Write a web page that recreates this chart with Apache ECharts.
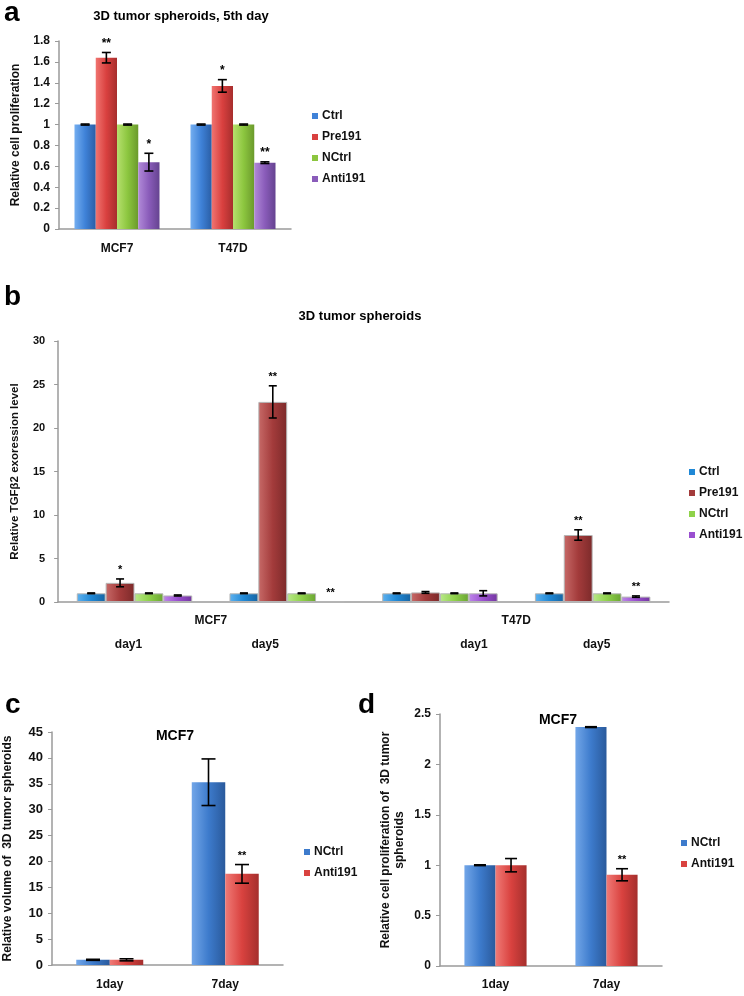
<!DOCTYPE html>
<html><head><meta charset="utf-8">
<script src="https://cdn.jsdelivr.net/npm/echarts@6/dist/echarts.min.js"></script>
<style>html,body{margin:0;padding:0;background:#fff}#c{width:744px;height:996px}</style>
</head><body><div id="c"></div>
<script>
// ---------------- data ----------------
const seriesNames = ['Ctrl', 'Pre191', 'NCtrl', 'Anti191'];

// Panel a
const catsA = ['MCF7', 'T47D'];
const aCtrl = [1.0, 1.0];
const aPre191 = [1.64, 1.37];
const aNCtrl = [1.0, 1.0];
const aAnti191 = [0.64, 0.635];
const aCtrlErr = [0.005, 0.005];
const aPre191Err = [0.05, 0.06];
const aNCtrlErr = [0.005, 0.005];
const aAnti191Err = [0.085, 0.008];
const aSigCtrl = ['', ''];
const aSigPre191 = ['**', '*'];
const aSigNCtrl = ['', ''];
const aSigAnti191 = ['*', '**'];

// Panel b
const bCellLines = ['MCF7', 'MCF7', 'T47D', 'T47D'];
const bDays = ['day1', 'day5', 'day1', 'day5'];
const bGroups = ['MCF7', 'T47D'];
const bCtrl = [1.0, 1.0, 1.0, 1.0];
const bPre191 = [2.2, 23.0, 1.1, 7.7];
const bNCtrl = [1.0, 1.0, 1.0, 1.0];
const bAnti191 = [0.75, 0.05, 1.0, 0.62];
const bCtrlErr = [0.04, 0.04, 0.04, 0.04];
const bPre191Err = [0.45, 1.85, 0.1, 0.6];
const bNCtrlErr = [0.04, 0.04, 0.04, 0.04];
const bAnti191Err = [0.06, 0, 0.3, 0.08];
const bSigCtrl = ['', '', '', ''];
const bSigPre191 = ['*', '**', '', '**'];
const bSigNCtrl = ['', '', '', ''];
const bSigAnti191 = ['', '**', '', '**'];

// Panel c
const catsC = ['1day', '7day'];
const cNCtrl = [1.0, 35.3];
const cAnti191 = [1.0, 17.6];
const cNCtrlErr = [0.1, 4.5];
const cAnti191Err = [0.2, 1.8];
const cSigNCtrl = ['', ''];
const cSigAnti191 = ['', '**'];

// Panel d
const catsD = ['1day', '7day'];
const dNCtrl = [1.0, 2.37];
const dAnti191 = [1.0, 0.905];
const dNCtrlErr = [0.004, 0.004];
const dAnti191Err = [0.066, 0.06];
const dSigNCtrl = ['', ''];
const dSigAnti191 = ['', '**'];

// ---------------- styles ----------------
const F = "'Liberation Sans', Arial, sans-serif";
const colA = [
  ['#74aef0', '#3f82d8', '#2a5ea6'],
  ['#f07470', '#d9403f', '#a72e2d'],
  ['#b6e06e', '#8cc63f', '#6b9a2c'],
  ['#b18ad8', '#8a5cba', '#654390']
];
const colB = [
  ['#5fb2ef', '#1f88d6', '#1664a2'],
  ['#c76a68', '#a33b3b', '#7c2a2a'],
  ['#b9e88a', '#8fd24a', '#6aa532'],
  ['#bd86ea', '#9a4fd0', '#7336a0']
];
const colCD = [
  ['#72a6e8', '#3d7bcc', '#2a5a9c'],
  ['#f07a76', '#d9423f', '#a52f2d']
];
// horizontal nudges of the panel-b day labels (px), as in the original layout
const bDayLabelShift = [-6, -22, 34, 4];

function grad(c) {
  return new echarts.graphic.LinearGradient(0, 0, 1, 0, [
    { offset: 0, color: c[0] }, { offset: 0.5, color: c[1] }, { offset: 1, color: c[2] }
  ]);
}

const chart = echarts.init(document.getElementById('c'), null, { renderer: 'canvas' });

const series = [];
function addPanel(xi, yi, names, vals, errs, sigs, cols, gap, capHalf, sigFont, borderColor) {
  const n = names.length;
  names.forEach((nm, k) => {
    series.push({
      type: 'bar', name: nm, xAxisIndex: xi, yAxisIndex: yi,
      data: vals[k], barGap: '0%', barCategoryGap: (gap * 100) + '%',
      itemStyle: { color: grad(cols[k]), borderColor: borderColor || 'rgba(0,0,0,0)', borderWidth: borderColor ? 1 : 0 },
      emphasis: { disabled: true }, animation: false
    });
  });
  names.forEach((nm, k) => {
    const v = vals[k], e = errs[k], s = sigs[k];
    series.push({
      type: 'custom', xAxisIndex: xi, yAxisIndex: yi, z: 10, animation: false, silent: true,
      data: v.map((val, i) => [i, val, e[i]]),
      renderItem(params, api) {
        const i = api.value(0), val = api.value(1), er = api.value(2);
        const band = api.size([1, 0])[0];
        const bw = band * (1 - gap) / n;
        const cx = api.coord([i, val])[0] + (k - (n - 1) / 2) * bw;
        const yt = api.coord([i, val + er])[1];
        const yb = api.coord([i, Math.max(val - er, 0)])[1];
        const st = { stroke: '#000', lineWidth: 1.6 };
        const ch = [];
        if (!(val < 0.1 && er === 0)) {
          ch.push({ type: 'line', shape: { x1: cx, y1: yt, x2: cx, y2: yb }, style: st });
          ch.push({ type: 'line', shape: { x1: cx - capHalf, y1: yt, x2: cx + capHalf, y2: yt }, style: st });
          ch.push({ type: 'line', shape: { x1: cx - capHalf, y1: yb, x2: cx + capHalf, y2: yb }, style: st });
        }
        const sg = s[params.dataIndex];
        if (sg) {
          ch.push({ type: 'text', x: cx, y: yt - 3, style: { text: sg, textAlign: 'center', textVerticalAlign: 'bottom', font: sigFont, fill: '#000' } });
        }
        return { type: 'group', children: ch };
      }
    });
  });
}

addPanel(0, 0, seriesNames, [aCtrl, aPre191, aNCtrl, aAnti191], [aCtrlErr, aPre191Err, aNCtrlErr, aAnti191Err],
  [aSigCtrl, aSigPre191, aSigNCtrl, aSigAnti191], colA, 0.267, 4.5, "bold 12px " + F);
addPanel(1, 1, seriesNames, [bCtrl, bPre191, bNCtrl, bAnti191], [bCtrlErr, bPre191Err, bNCtrlErr, bAnti191Err],
  [bSigCtrl, bSigPre191, bSigNCtrl, bSigAnti191], colB, 0.244, 4, "bold 11px " + F, '#b5b5b5');
addPanel(3, 2, ['NCtrl', 'Anti191'], [cNCtrl, cAnti191], [cNCtrlErr, cAnti191Err],
  [cSigNCtrl, cSigAnti191], colCD, 0.42, 7, "bold 11px " + F);
addPanel(4, 3, ['NCtrl', 'Anti191'], [dNCtrl, dAnti191], [dNCtrlErr, dAnti191Err],
  [dSigNCtrl, dSigAnti191], colCD, 0.44, 6, "bold 11px " + F);

const axLine = { show: true, lineStyle: { color: '#9a9a9a', width: 1.5 } };
function yAx(grid, max, interval, name, gap, size, nameSize, margin) {
  return {
    type: 'value', gridIndex: grid, min: 0, max: max, interval: interval, position: 'left',
    axisLine: axLine, axisTick: { show: true, length: 4, lineStyle: { color: '#9a9a9a' } },
    splitLine: { show: false },
    axisLabel: { fontFamily: F, fontWeight: 'bold', fontSize: size, color: '#111', margin: margin },
    name: name, nameLocation: 'middle', nameRotate: 90, nameGap: gap,
    nameTextStyle: { fontFamily: F, fontWeight: 'bold', fontSize: nameSize, color: '#111', align: 'center', lineHeight: 14 }
  };
}
function xAx(grid, data, margin, extra) {
  return Object.assign({
    type: 'category', gridIndex: grid, data: data, position: 'bottom',
    axisLine: axLine, axisTick: { show: false },
    axisLabel: { fontFamily: F, fontWeight: 'bold', fontSize: 12, color: '#111', margin: margin, interval: 0 }
  }, extra || {});
}

const bCats = bCellLines.map((c, i) => c + ' ' + bDays[i]);
const bRich = {};
bDayLabelShift.forEach((d, i) => {
  bRich['s' + i] = { fontFamily: F, fontWeight: 'bold', fontSize: 12, color: '#111',
    padding: d >= 0 ? [0, 0, 0, 2 * d] : [0, -2 * d, 0, 0] };
});

function legend(names, cols, left, top) {
  return {
    orient: 'vertical', left: left, top: top, padding: 0, itemWidth: 6, itemHeight: 6, itemGap: 7,
    icon: 'rect', selectedMode: false,
    data: names.map((nm, i) => ({ name: nm, itemStyle: { color: cols[i][1] } })),
    textStyle: { fontFamily: F, fontWeight: 'bold', fontSize: 12, color: '#111', lineHeight: 14, padding: [0, 0, 0, -1] }
  };
}

function txt(x, y, s, font, align) {
  return { type: 'text', x: x, y: y, style: { text: s, font: font, fill: '#000', textAlign: align || 'center', textVerticalAlign: 'middle' } };
}

chart.setOption({
  animation: false,
  grid: [
    { left: 59, top: 41, width: 232, height: 188 },
    { left: 50, top: 341, width: 619, height: 261 },
    { left: 49, top: 732, width: 234, height: 233 },
    { left: 440, top: 714, width: 222, height: 252 }
  ],
  xAxis: [
    xAx(0, catsA, 14),
    xAx(1, bCats, 37, { axisLabel: { interval: 0, margin: 37, formatter: (v, i) => '{s' + i + '|' + v.split(' ')[1] + '}', rich: bRich } }),
    xAx(1, bGroups, 13, { axisLine: { show: false } }),
    xAx(2, catsC, 14),
    xAx(3, catsD, 13)
  ],
  yAxis: [
    yAx(0, 1.8, 0.2, 'Relative cell proliferation', 36, 12, 12, 9),
    yAx(1, 30, 5, 'Relative TGFβ2 exoression level', 36, 11, 11.5, 13),
    yAx(2, 45, 5, 'Relative volume of  3D tumor spheroids', 37, 13, 12, 9),
    yAx(3, 2.5, 0.5, 'Relative cell proliferation of  3D tumor\nspheroids', 33, 12, 12, 9)
  ],
  legend: [
    legend(seriesNames, colA, 312, 109),
    legend(seriesNames, colB, 689, 465),
    legend(['NCtrl', 'Anti191'], colCD, 304, 845),
    legend(['NCtrl', 'Anti191'], colCD, 681, 836)
  ],
  series: series,
  graphic: [
    txt(4, 13, 'a', 'bold 28px ' + F, 'left'),
    txt(4, 297, 'b', 'bold 28px ' + F, 'left'),
    txt(5, 705, 'c', 'bold 28px ' + F, 'left'),
    txt(358, 705, 'd', 'bold 28px ' + F, 'left'),
    txt(181, 16, '3D tumor spheroids, 5th day', 'bold 13px ' + F),
    txt(360, 316, '3D tumor spheroids', 'bold 13px ' + F),
    txt(175, 736, 'MCF7', 'bold 14px ' + F),
    txt(558, 720, 'MCF7', 'bold 14px ' + F)
  ]
});
</script>
</body></html>
